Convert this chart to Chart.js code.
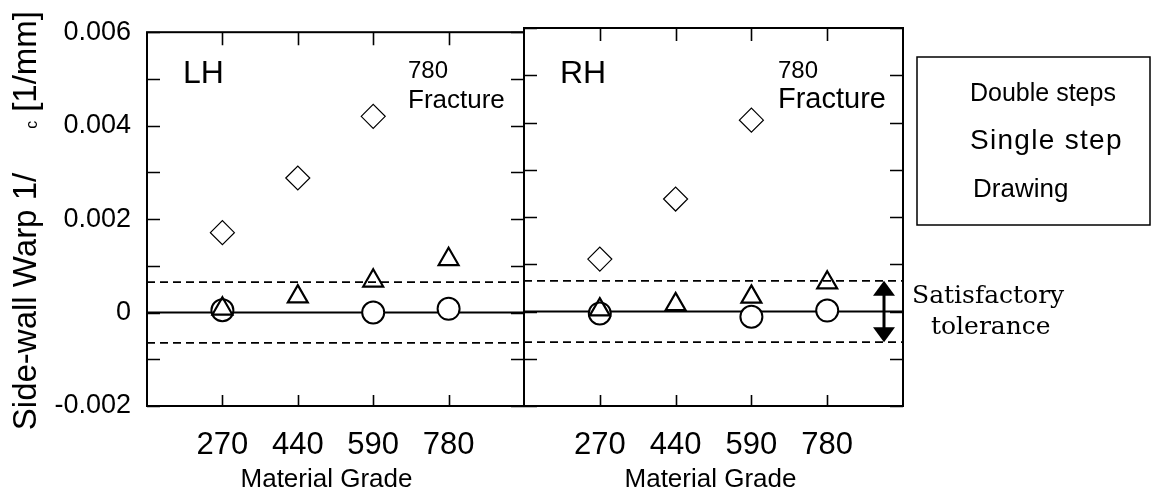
<!DOCTYPE html>
<html><head><meta charset="utf-8">
<script src="https://cdn.jsdelivr.net/npm/chart.js@4.4.0/dist/chart.umd.min.js"></script>
<style>
html,body{margin:0;padding:0;background:#fff;}
#wrap{position:relative;width:1152px;height:490px;background:#fff;}
canvas{position:absolute;left:0;top:0;}
</style></head><body>
<div id="wrap"><canvas id="cL" width="1152" height="490"></canvas><canvas id="cR" width="1152" height="490"></canvas></div>
<script>
// ---- data ----
const grades = ['270', '440', '590', '780'];
const yTickValues = [-0.002, 0, 0.002, 0.004, 0.006];
const yTickLabels = ['-0.002', '0', '0.002', '0.004', '0.006'];
const seriesNames = ['Double steps', 'Single step', 'Drawing'];
const lhDouble  = [0.00171, 0.00288, 0.00420, null];
const lhSingle  = [0.00008, 0.00034, 0.00068, 0.00114];
const lhDrawing = [0.00005, null, 0.00000, 0.00008];
const rhDouble  = [0.00111, 0.00238, 0.00405, null];
const rhSingle  = [0.00004, 0.00015, 0.00031, 0.00061];
const rhDrawing = [-0.00004, null, -0.00011, 0.00002];
const tolerance = 0.00065;
const panelNames = ['LH', 'RH'];
const fractureNote = ['780', 'Fracture'];
const yTitleParts = ['Side-wall Warp 1/', 'c', '[1/mm]'];
const xTitle = 'Material Grade';
const toleranceText = ['Satisfactory', 'tolerance'];

const SANS = '"Liberation Sans", Arial, sans-serif';
const SERIF = '"DejaVu Serif", "Liberation Serif", serif';

function drawFrameAndLines(chart) {
  const ctx = chart.ctx, a = chart.chartArea, ys = chart.scales.y;
  ctx.save();
  ctx.strokeStyle = '#000';
  ctx.lineWidth = 2;
  let y0 = ys.getPixelForValue(0);
  ctx.beginPath(); ctx.moveTo(a.left, y0); ctx.lineTo(a.right, y0); ctx.stroke();
  ctx.lineWidth = 1.8;
  ctx.setLineDash([8, 5]);
  [tolerance, -tolerance].forEach(v => {
    const y = ys.getPixelForValue(v);
    ctx.beginPath(); ctx.moveTo(a.left, y); ctx.lineTo(a.right, y); ctx.stroke();
  });
  ctx.restore();
}

function drawAxesDecor(chart, opts) {
  const ctx = chart.ctx, a = chart.chartArea, ys = chart.scales.y, xs = chart.scales.x;
  ctx.save();
  ctx.strokeStyle = '#000';
  ctx.lineWidth = 2;
  ctx.strokeRect(a.left, a.top, a.right - a.left, a.bottom - a.top);
  ctx.lineWidth = 1.6;
  ys.ticks.forEach(t => {
    const y = Math.round(ys.getPixelForValue(t.value)) + 0.5;
    ctx.beginPath();
    ctx.moveTo(a.left, y); ctx.lineTo(a.left + 13, y);
    ctx.moveTo(a.right - 13, y); ctx.lineTo(a.right, y);
    ctx.stroke();
  });
  grades.forEach((g, i) => {
    const x = Math.round(xs.getPixelForValue(i + 1)) + 0.5;
    ctx.beginPath();
    ctx.moveTo(x, a.top); ctx.lineTo(x, a.top + 13);
    ctx.moveTo(x, a.bottom); ctx.lineTo(x, a.bottom - 11);
    ctx.stroke();
  });
  ctx.fillStyle = '#000';
  ctx.font = '26px ' + SANS;
  ctx.textAlign = 'center';
  ctx.textBaseline = 'alphabetic';
  ctx.fillText(xTitle, (a.left + a.right) / 2 + opts.xTitleShift, 487);
  ctx.textAlign = 'left';
  ctx.font = '32px ' + SANS;
  ctx.fillText(opts.name, opts.nameX, 83);
  ctx.font = '24px ' + SANS;
  ctx.fillText(fractureNote[0], opts.noteX, 78);
  ctx.font = opts.fracSize + 'px ' + SANS;
  ctx.fillText(fractureNote[1], opts.noteX, 108);
  ctx.restore();
}

function drawYTitle(chart) {
  const ctx = chart.ctx, a = chart.chartArea;
  ctx.save();
  ctx.fillStyle = '#000';
  ctx.textBaseline = 'alphabetic';
  ctx.textAlign = 'left';
  const big = '33px ' + SANS, small = '16px ' + SANS;
  ctx.font = big;
  const w1 = ctx.measureText(yTitleParts[0]).width;
  const w3 = ctx.measureText(yTitleParts[2]).width;
  ctx.font = small;
  const w2 = ctx.measureText(yTitleParts[1]).width;
  const gap = 44, gap2 = 9;
  const total = w1 + gap + w2 + gap2 + w3;
  const cy = (a.top + a.bottom) / 2 + 1.5;
  ctx.translate(36, cy);
  ctx.rotate(-Math.PI / 2);
  let u = -total / 2;
  ctx.font = big;
  ctx.fillText(yTitleParts[0], u, 0);
  u += w1 + gap;
  ctx.font = small;
  ctx.fillText(yTitleParts[1], u, 1);
  u += w2 + gap2;
  ctx.font = big;
  ctx.fillText(yTitleParts[2], u, 0);
  ctx.restore();
}

function drawRightExtras(chart) {
  const ctx = chart.ctx, a = chart.chartArea, ys = chart.scales.y;
  ctx.save();
  const ax = a.right - 19;
  const yT = ys.getPixelForValue(tolerance), yB = ys.getPixelForValue(-tolerance);
  ctx.fillStyle = '#000'; ctx.strokeStyle = '#000';
  ctx.lineWidth = 3;
  ctx.beginPath(); ctx.moveTo(ax, yT + 10); ctx.lineTo(ax, yB - 10); ctx.stroke();
  ctx.beginPath(); ctx.moveTo(ax, yT); ctx.lineTo(ax - 11, yT + 15); ctx.lineTo(ax + 11, yT + 15); ctx.closePath(); ctx.fill();
  ctx.beginPath(); ctx.moveTo(ax, yB); ctx.lineTo(ax - 11, yB - 15); ctx.lineTo(ax + 11, yB - 15); ctx.closePath(); ctx.fill();
  ctx.font = '25px ' + SERIF;
  ctx.textAlign = 'left'; ctx.textBaseline = 'alphabetic';
  ctx.fillText(toleranceText[0], 912, 303);
  ctx.fillText(toleranceText[1], 931, 334);
  ctx.lineWidth = 1.5;
  ctx.strokeRect(917, 57, 233, 168);
  ctx.font = '25px ' + SANS;
  ctx.fillText(seriesNames[0], 970, 101);
  ctx.font = '28px ' + SANS;
  try { ctx.letterSpacing = '1.3px'; } catch (e) {}
  ctx.fillText(seriesNames[1], 970, 149);
  try { ctx.letterSpacing = '0px'; } catch (e) {}
  ctx.font = '26px ' + SANS;
  ctx.fillText(seriesNames[2], 973, 197);
  ctx.restore();
}

function makeChart(id, opts) {
  const labels = ['', ...grades, ''];
  const pad = arr => [null, ...arr, null];
  return new Chart(document.getElementById(id), {
    type: 'line',
    data: {
      labels,
      datasets: [
        { label: seriesNames[0], data: pad(opts.d), showLine: false, pointStyle: 'rectRot',
          pointRadius: 12, pointBorderWidth: 1.2, pointBorderColor: '#000',
          pointBackgroundColor: 'rgba(255,255,255,0)', borderColor: '#000', order: 0 },
        { label: seriesNames[1], data: pad(opts.s), showLine: false, pointStyle: 'triangle',
          pointRadius: 11.5, pointBorderWidth: 2.2, pointBorderColor: '#000',
          pointBackgroundColor: 'rgba(255,255,255,0)', borderColor: '#000', order: 1 },
        { label: seriesNames[2], data: pad(opts.c), showLine: false, pointStyle: 'circle',
          pointRadius: 11, pointBorderWidth: 2, pointBorderColor: '#000',
          pointBackgroundColor: '#fff', borderColor: '#000', order: 2 }
      ]
    },
    options: {
      responsive: false, animation: false, events: [],
      layout: { padding: { left: opts.padL, right: opts.padR, top: 28, bottom: 0 } },
      plugins: { legend: { display: false }, tooltip: { enabled: false } },
      scales: {
        x: {
          type: 'category', offset: false,
          grid: { display: false, drawTicks: false }, border: { display: false },
          ticks: { autoSkip: false, maxRotation: 0, color: '#000', padding: 21,
                   font: { family: SANS, size: 31 } },
          afterFit: s => { s.height = 84; }
        },
        y: {
          min: -0.002, max: 0.006, display: opts.showY,
          grid: { display: false, drawTicks: false }, border: { display: false },
          ticks: {
            stepSize: 0.001, color: '#000', padding: 16, font: { family: SANS, size: 27 },
            callback: v => {
              const i = yTickValues.findIndex(t => Math.abs(t - v) < 1e-9);
              return i >= 0 ? yTickLabels[i] : '';
            }
          },
          afterFit: s => { s.width = opts.showY ? 147 : 0; }
        }
      }
    },
    plugins: [{
      id: 'decor',
      beforeDatasetsDraw: c => drawFrameAndLines(c),
      afterDraw: c => {
        drawAxesDecor(c, opts);
        if (opts.showY) drawYTitle(c);
        if (opts.extras) drawRightExtras(c);
      }
    }]
  });
}

makeChart('cL', { d: lhDouble, s: lhSingle, c: lhDrawing, padL: 0, padR: 1152 - 524, showY: true,
  name: panelNames[0], nameX: 183, noteX: 408, fracSize: 26, xTitleShift: -9, extras: false });
makeChart('cR', { d: rhDouble, s: rhSingle, c: rhDrawing, padL: 524, padR: 1152 - 903, showY: false,
  name: panelNames[1], nameX: 560, noteX: 778, fracSize: 29, xTitleShift: -3, extras: true });
</script>
</body></html>
